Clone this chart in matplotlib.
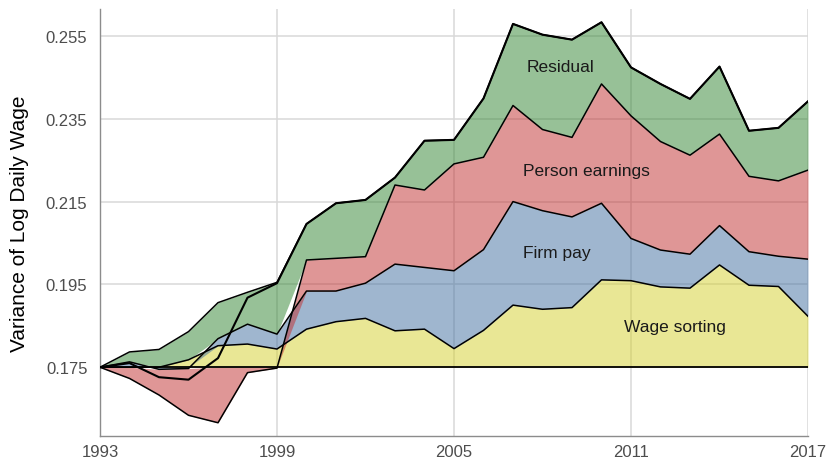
import numpy as np
import matplotlib
matplotlib.use("Agg")
import matplotlib.pyplot as plt

plt.rcParams['font.family'] = ['Liberation Sans', 'DejaVu Sans']

# variance of log daily wage in 1993 (reference level)
base = 0.175

years = np.arange(1993, 2018)

# change since 1993 attributed to each component
wage_sorting = [0.0000, 0.0000, 0.0000, 0.0018, 0.0052, 0.0056, 0.0044, 0.0092, 0.0110,
                0.0118, 0.0088, 0.0092, 0.0045, 0.0089, 0.0150, 0.0140, 0.0144, 0.0211,
                0.0209, 0.0194, 0.0191, 0.0247, 0.0198, 0.0195, 0.0123]
firm_pay = [0.0000, 0.0013, -0.0005, -0.0003, 0.0017, 0.0048, 0.0036, 0.0092, 0.0074,
            0.0085, 0.0161, 0.0149, 0.0188, 0.0195, 0.0250, 0.0238, 0.0219, 0.0185,
            0.0102, 0.0089, 0.0082, 0.0095, 0.0081, 0.0073, 0.0138]
person_earnings = [0.0000, -0.0027, -0.0062, -0.0113, -0.0134, -0.0013, -0.0002, 0.0075, 0.0079,
                   0.0064, 0.0191, 0.0187, 0.0258, 0.0223, 0.0232, 0.0196, 0.0192, 0.0288,
                   0.0296, 0.0262, 0.0239, 0.0221, 0.0182, 0.0182, 0.0215]
residual = [0.0000, 0.0024, 0.0043, 0.0068, 0.0087, 0.0077, 0.0125, 0.0087, 0.0133,
            0.0137, 0.0018, 0.0119, 0.0058, 0.0142, 0.0197, 0.0229, 0.0236, 0.0149,
            0.0117, 0.0139, 0.0136, 0.0163, 0.0110, 0.0128, 0.0166]

labels = ["Wage sorting", "Firm pay", "Person earnings", "Residual"]
colors = ["#d5d02c", "#416fa0", "#c12e2e", "#308430"]
label_pos = [(2012.5, 0.1849), (2008.5, 0.2028), (2009.5, 0.2226), (2008.6, 0.2475)]

fig = plt.figure(figsize=(8.27, 4.64), dpi=100)
ax = fig.add_axes([100 / 827, 27 / 464, 708 / 827, 427 / 464])

# stack positives upward and negatives downward (like ggplot position_stack)
pos = np.zeros(len(years))
neg = np.zeros(len(years))
layers = [wage_sorting, firm_pay, person_earnings, residual]
for vals, col in zip(layers, colors):
    vals = np.array(vals)
    start = np.where(vals >= 0, pos, neg)
    end = start + vals
    pos = np.where(vals >= 0, end, pos)
    neg = np.where(vals < 0, end, neg)
    ax.fill_between(years, base + start, base + end, color=col, alpha=0.5, lw=0, zorder=2)
    ax.plot(years, base + end, color="black", lw=1.1, zorder=3)

total = base + np.sum(layers, axis=0)
ax.plot(years, total, color="black", lw=1.5, zorder=4)
ax.axhline(base, color="black", lw=1.3, zorder=4)

for lab, (x, y) in zip(labels, label_pos):
    ax.text(x, y, lab, fontsize=12.5, ha="center", va="center", color="#1a1a1a", zorder=5)

ax.set_xlim(1993, 2017)
ax.set_ylim(0.1584, 0.2615)
ax.set_xticks([1993, 1999, 2005, 2011, 2017])
ax.set_yticks([0.175, 0.195, 0.215, 0.235, 0.255])
ax.set_yticklabels(["0.175", "0.195", "0.215", "0.235", "0.255"])
ax.tick_params(axis="y", length=0, labelsize=12, labelcolor="#4d4d4d", pad=9)
ax.tick_params(axis="x", length=0, labelsize=12, labelcolor="#4d4d4d", pad=6)
ax.grid(True, color="#d9d9d9", lw=1.1, zorder=0)
ax.set_axisbelow(True)
for side in ["top", "right"]:
    ax.spines[side].set_visible(False)
for side in ["left", "bottom"]:
    ax.spines[side].set_color("#8c8c8c")
    ax.spines[side].set_linewidth(1.0)
ax.set_ylabel("Variance of Log Daily Wage", fontsize=15, color="black", labelpad=12)

fig.savefig("out.png", dpi=100)
